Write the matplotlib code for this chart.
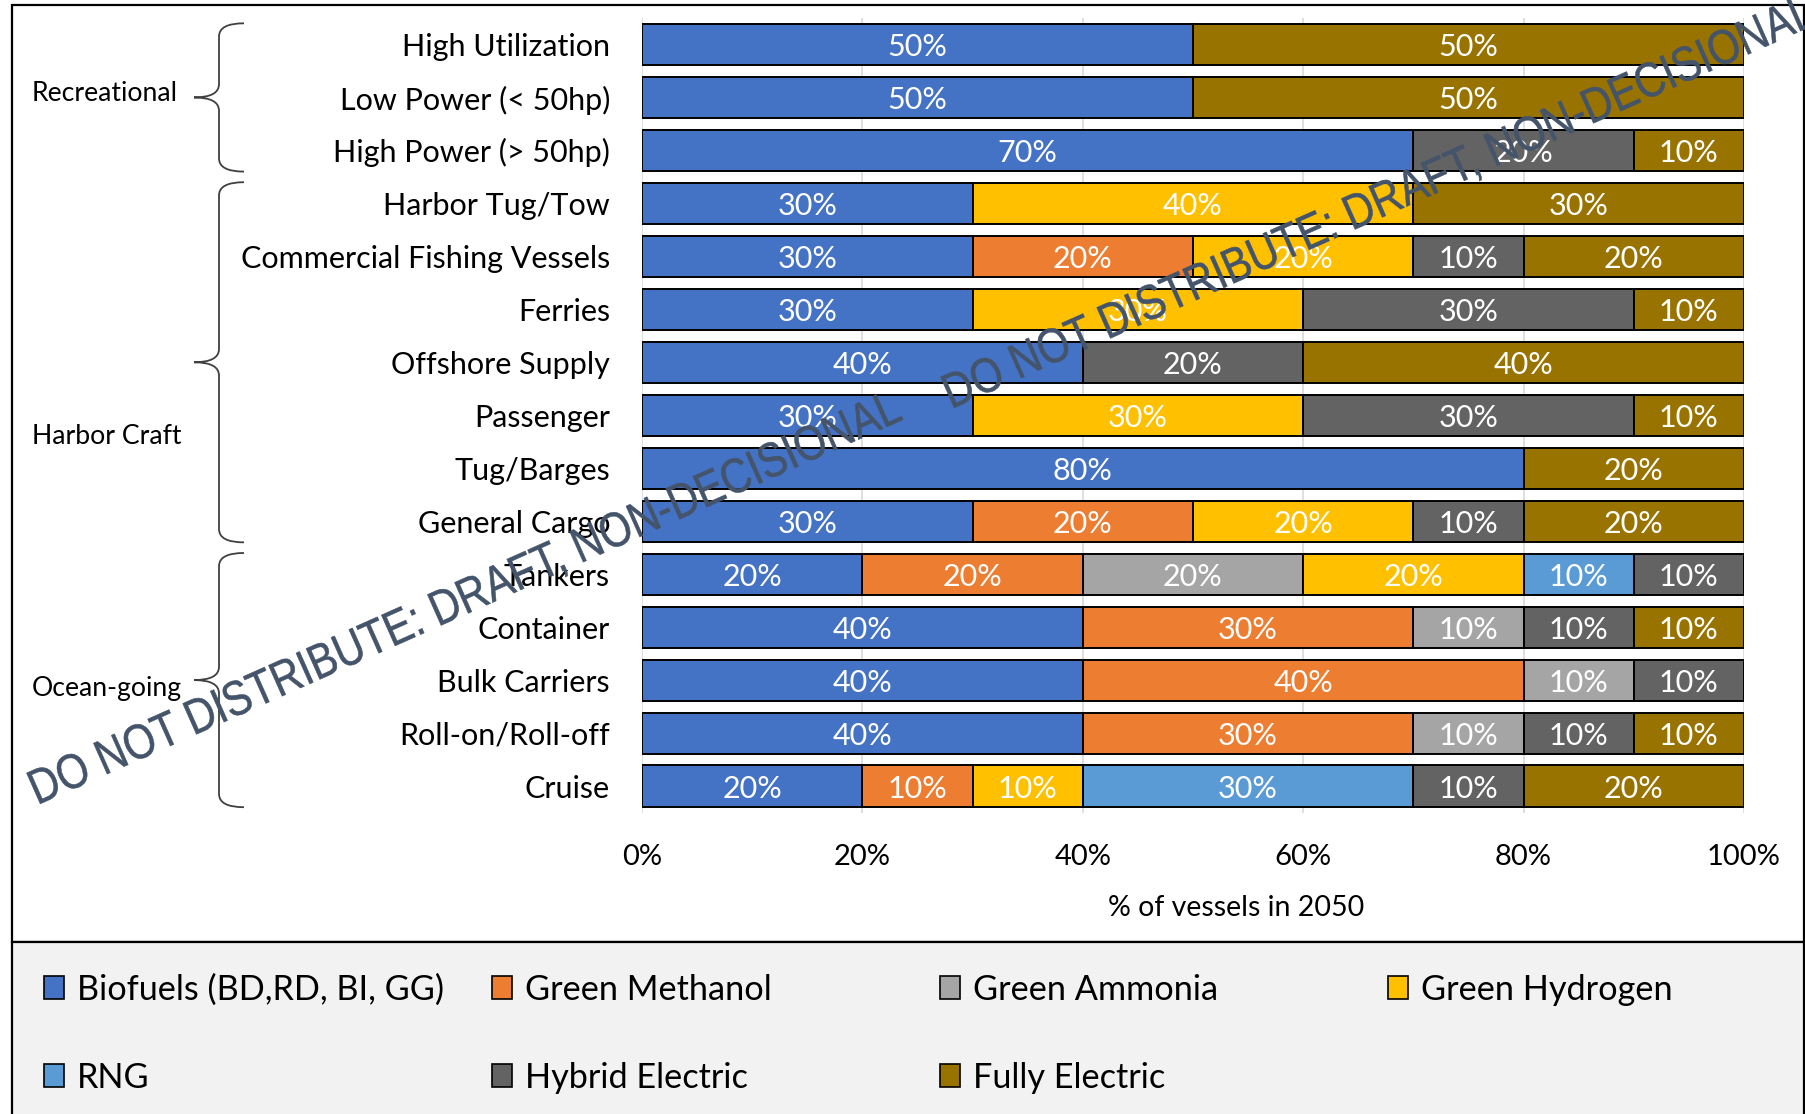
import matplotlib.pyplot as plt
import matplotlib.transforms as mtransforms
from matplotlib.patches import Rectangle, PathPatch
from matplotlib.path import Path
from matplotlib.textpath import TextPath
from matplotlib.font_manager import FontProperties

plt.rcParams['font.family'] = ['Lato', 'DejaVu Sans']

categories = ["High Utilization", "Low Power (< 50hp)", "High Power (> 50hp)",
              "Harbor Tug/Tow", "Commercial Fishing Vessels", "Ferries",
              "Offshore Supply", "Passenger", "Tug/Barges", "General Cargo",
              "Tankers", "Container", "Bulk Carriers", "Roll-on/Roll-off", "Cruise"]

series = ["Biofuels (BD,RD, BI, GG)", "Green Methanol", "Green Ammonia",
          "Green Hydrogen", "RNG", "Hybrid Electric", "Fully Electric"]

biofuels = [50, 50, 70, 30, 30, 30, 40, 30, 80, 30, 20, 40, 40, 40, 20]
methanol = [0, 0, 0, 0, 20, 0, 0, 0, 0, 20, 20, 30, 40, 30, 10]
ammonia = [0, 0, 0, 0, 0, 0, 0, 0, 0, 0, 20, 10, 10, 10, 0]
hydrogen = [0, 0, 0, 40, 20, 30, 0, 30, 0, 20, 20, 0, 0, 0, 10]
rng = [0, 0, 0, 0, 0, 0, 0, 0, 0, 0, 10, 0, 0, 0, 30]
hybrid = [0, 0, 20, 0, 10, 30, 20, 30, 0, 10, 10, 10, 10, 10, 10]
fully = [50, 50, 10, 30, 20, 10, 40, 10, 20, 20, 0, 10, 0, 10, 20]

groups = ["Recreational", "Harbor Craft", "Ocean-going"]
group_first = [0, 3, 10]
group_last = [2, 9, 14]

xticks = [0, 20, 40, 60, 80, 100]
xticklabels = ["0%", "20%", "40%", "60%", "80%", "100%"]

colors = ["#4472C4", "#ED7D31", "#A5A5A5", "#FFC000", "#5B9BD5", "#636363", "#997300"]
values = [biofuels, methanol, ammonia, hydrogen, rng, hybrid, fully]

wm_text = "DO NOT DISTRIBUTE: DRAFT, NON-DECISIONAL"

W, H = 1805, 1114
fig = plt.figure(figsize=(W / 100, H / 100), dpi=100)


def fx(px):
    return px / W


def fy(py):
    return 1 - py / H


# chart frame and legend box
fig.add_artist(Rectangle((fx(12), fy(942)), fx(1804) - fx(12), fy(5) - fy(942),
                         transform=fig.transFigure, fc="white", ec="black", lw=1.6, zorder=0))
fig.add_artist(Rectangle((fx(12), fy(1118)), fx(1804) - fx(12), fy(942) - fy(1118),
                         transform=fig.transFigure, fc="#F2F2F2", ec="black", lw=1.6, zorder=0))

ax = fig.add_axes([fx(642), fy(812.5), fx(1744) - fx(642), fy(18) - fy(812.5)])
ax.patch.set_alpha(0)

y = list(range(len(categories)))
left = [0] * len(categories)
for vals, col, name in zip(values, colors, series):
    bars = ax.barh(y, vals, left=left, height=0.775, color=col, edgecolor="black",
                   linewidth=1.4, label=name, zorder=3)
    for b, v in zip(bars, vals):
        if v > 0:
            ax.text(b.get_x() + b.get_width() / 2, b.get_y() + b.get_height() / 2,
                    f"{v}%", ha="center", va="center_baseline", color="white",
                    fontsize=22, zorder=4)
    left = [l + v for l, v in zip(left, vals)]

ax.set_xlim(0, 100)
ax.set_ylim(len(categories) - 0.5, -0.5)
ax.set_xticks(xticks)
ax.set_xticklabels(xticklabels, fontsize=21)
ax.set_yticks(y)
ax.set_yticklabels(categories, fontsize=22)
ax.tick_params(axis="x", length=0, pad=22.5)
ax.tick_params(axis="y", length=0, pad=23)
for s in ax.spines.values():
    s.set_visible(False)
ax.grid(axis="x", color="#D9D9D9", lw=1.2, zorder=0)
ax.set_xlabel("% of vessels in 2050", fontsize=20.5)
ax.xaxis.set_label_coords((1236 - 642) / 1102, -0.104)

# group braces and labels
trans = mtransforms.blended_transform_factory(fig.transFigure, ax.transData)
group_label_y = [0.88, 7.35, 12.12]
xh, xv, xt = fx(244), fx(219), fx(194)
r = 0.25
for name, g0, g1, ly in zip(groups, group_first, group_last, group_label_y):
    top, bot = g0 - 0.4, g1 + 0.4
    mid = (top + bot) / 2
    verts = [(xh, top), (xv, top), (xv, top + r), (xv, mid - r), (xv, mid), (xt, mid),
             (xv, mid), (xv, mid + r), (xv, bot - r), (xv, bot), (xh, bot)]
    codes = [Path.MOVETO, Path.CURVE3, Path.CURVE3, Path.LINETO, Path.CURVE3, Path.CURVE3,
             Path.CURVE3, Path.CURVE3, Path.LINETO, Path.CURVE3, Path.CURVE3]
    ax.add_patch(PathPatch(Path(verts, codes), fill=False, ec="#404040", lw=1.3,
                           transform=trans, clip_on=False))
    ax.text(fx(32), ly, name, transform=trans, ha="left", va="center_baseline", fontsize=19.2)

# legend
for i, (name, col) in enumerate(zip(series, colors)):
    cx = 44 + (i % 4) * 448
    cy = 987 + (i // 4) * 88
    fig.add_artist(Rectangle((fx(cx), fy(cy + 11.5)), fx(20), 23 / H, transform=fig.transFigure,
                             fc=col, ec="black", lw=1.2))
    fig.text(fx(cx + 33), fy(cy), name, ha="left", va="center_baseline", fontsize=24.7)

# watermark (slightly condensed Arial-like lettering)
tp = TextPath((0, 0), wm_text, size=41.2, prop=FontProperties(family="Liberation Sans"))
bb = tp.get_extents()
for cx, cy in [(466, 599), (1380, 203)]:
    tr = (mtransforms.Affine2D()
          .translate(-(bb.x0 + bb.x1) / 2, -(bb.y0 + bb.y1) / 2)
          .scale(1.0, 1.19)
          .rotate_deg(24)
          .translate(cx, H - cy)
          .scale(1 / W, 1 / H))
    fig.add_artist(PathPatch(tp, transform=tr + fig.transFigure, fc="#44546A",
                             ec="#44546A", lw=0.4, zorder=10))

fig.savefig("out.png", dpi=100)
